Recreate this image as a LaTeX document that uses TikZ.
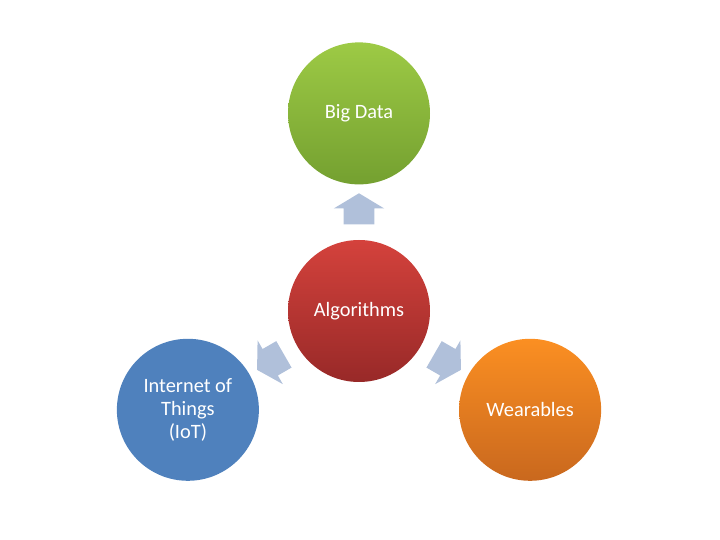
\documentclass[tikz,border=0pt]{standalone}
\usepackage{fontspec}
\setmainfont{Carlito}
\usepackage{xcolor}
\usetikzlibrary{shapes,arrows,calc}

\definecolor{greenTop}{HTML}{9DCA45}
\definecolor{greenBot}{HTML}{74A030}
\definecolor{redTop}{HTML}{D4423C}
\definecolor{redBot}{HTML}{982928}
\definecolor{orangeTop}{HTML}{FB8F22}
\definecolor{orangeBot}{HTML}{C9681E}
\definecolor{iotBlue}{HTML}{4F81BD}
\definecolor{arrowBlue}{HTML}{B0C0DA}

\begin{document}
\begin{tikzpicture}[
    topic/.style={circle, inner sep=0pt, minimum size=3.55cm, text=white, align=center, font=\fontsize{14.5}{16.3}\selectfont},
    blockarrow/.style={single arrow, fill=arrowBlue, inner sep=0pt, inner ysep=0.375cm, minimum height=0.775cm, single arrow head extend=0.25cm, single arrow tip angle=118}
]
    \useasboundingbox (0,0) rectangle (18,13.5);

    \node[topic, top color=redTop, bottom color=redBot] (algo) at (8.975,5.725) {Algorithms};
    \node[topic, top color=greenTop, bottom color=greenBot] (bigdata) at (8.975,10.665) {Big Data};
    \node[topic, fill=iotBlue] (iot) at (4.697,3.255) {Internet of\\Things\\(IoT)};
    \node[topic, top color=orangeTop, bottom color=orangeBot] (wear) at (13.253,3.255) {Wearables};

    \node[blockarrow, rotate=90] (toBigdata) at ($(algo)!0.494!(bigdata)$) {};
    \node[blockarrow, rotate=210] (toIot) at ($(algo)!0.494!(iot)$) {};
    \node[blockarrow, rotate=-30] (toWear) at ($(algo)!0.494!(wear)$) {};
\end{tikzpicture}
\end{document}
